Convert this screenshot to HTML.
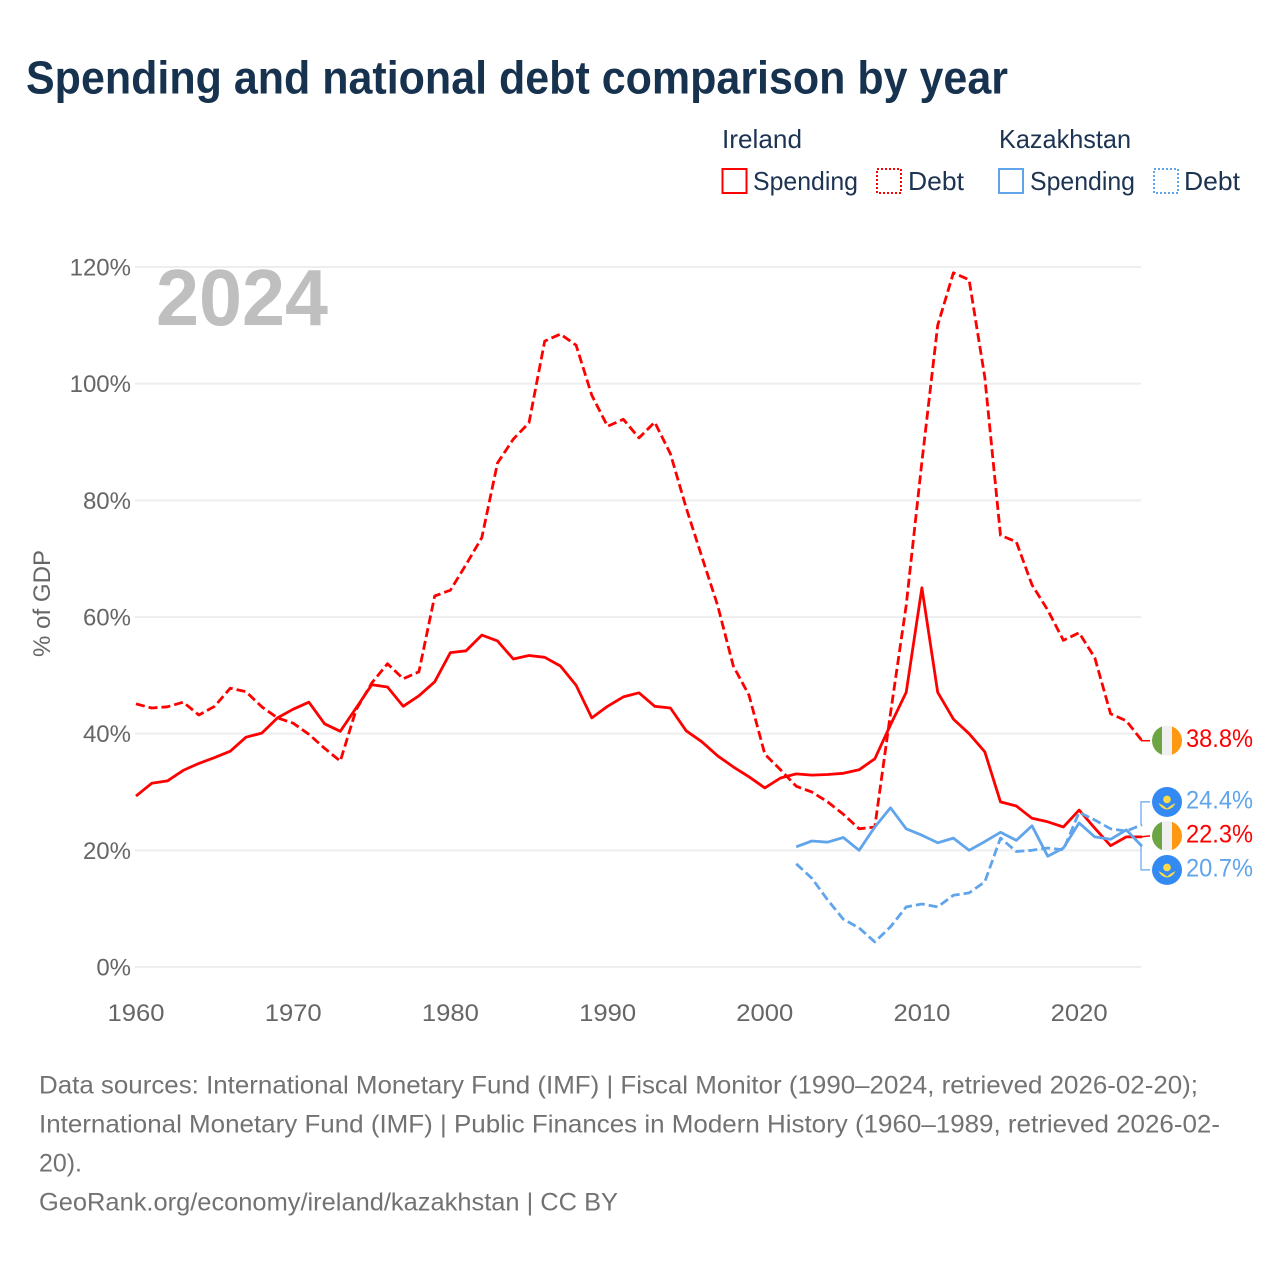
<!DOCTYPE html>
<html lang="en">
<head>
<meta charset="utf-8">
<title>Spending and national debt comparison by year</title>
<style>
html,body{margin:0;padding:0;background:#fff}
svg{display:block}
text{font-family:"Liberation Sans",sans-serif}
.legend{font-size:26px;fill:#1c3352}
.foot{font-size:25px;fill:#727272}
</style>
</head>
<body>
<svg id="chart" xmlns="http://www.w3.org/2000/svg" width="1280" height="1280" viewBox="0 0 1280 1280">
  <rect width="1280" height="1280" fill="#fff"/>
  <text x="26" y="93.5" font-size="46" font-weight="700" fill="#17324f" textLength="982" lengthAdjust="spacingAndGlyphs">Spending and national debt comparison by year</text>

  <g>
    <text class="legend" x="722" y="148" textLength="80" lengthAdjust="spacingAndGlyphs">Ireland</text>
    <text class="legend" x="999" y="148" textLength="132" lengthAdjust="spacingAndGlyphs">Kazakhstan</text>
    <rect x="722.5" y="169" width="24" height="24" fill="none" stroke="#ff0000" stroke-width="2"/>
    <text class="legend" x="753" y="190" textLength="105" lengthAdjust="spacingAndGlyphs">Spending</text>
    <rect x="877" y="169" width="24" height="24" fill="none" stroke="#ff0000" stroke-width="2" stroke-dasharray="2 2"/>
    <text class="legend" x="908" y="190" textLength="56" lengthAdjust="spacingAndGlyphs">Debt</text>
    <rect x="999" y="169" width="24" height="24" fill="none" stroke="#60a5ec" stroke-width="2"/>
    <text class="legend" x="1030" y="190" textLength="105" lengthAdjust="spacingAndGlyphs">Spending</text>
    <rect x="1154" y="169" width="24" height="24" fill="none" stroke="#60a5ec" stroke-width="2" stroke-dasharray="2 2"/>
    <text class="legend" x="1184" y="190" textLength="56" lengthAdjust="spacingAndGlyphs">Debt</text>
  </g>

  <g id="grid"></g>
  <g id="y-axis"></g>
  <g id="x-axis"></g>
  <text transform="translate(50 657) rotate(-90)" font-size="24" fill="#666" textLength="107" lengthAdjust="spacingAndGlyphs">% of GDP</text>
  <text x="156" y="325" font-size="80" font-weight="700" fill="#bfbfbf" textLength="172" lengthAdjust="spacingAndGlyphs">2024</text>

  <g id="series"></g>
  <g id="end-labels"></g>

  <g>
    <text class="foot" x="39" y="1093.5" textLength="1159" lengthAdjust="spacingAndGlyphs">Data sources: International Monetary Fund (IMF) | Fiscal Monitor (1990–2024, retrieved 2026-02-20);</text>
    <text class="foot" x="39" y="1132.5" textLength="1181" lengthAdjust="spacingAndGlyphs">International Monetary Fund (IMF) | Public Finances in Modern History (1960–1989, retrieved 2026-02-</text>
    <text class="foot" x="39" y="1171.5" textLength="43" lengthAdjust="spacingAndGlyphs">20).</text>
    <text class="foot" x="39" y="1210.5" textLength="579" lengthAdjust="spacingAndGlyphs">GeoRank.org/economy/ireland/kazakhstan | CC BY</text>
  </g>
</svg>
<script>
const irelandYears = [1960,1961,1962,1963,1964,1965,1966,1967,1968,1969,1970,1971,1972,1973,1974,1975,1976,1977,1978,1979,1980,1981,1982,1983,1984,1985,1986,1987,1988,1989,1990,1991,1992,1993,1994,1995,1996,1997,1998,1999,2000,2001,2002,2003,2004,2005,2006,2007,2008,2009,2010,2011,2012,2013,2014,2015,2016,2017,2018,2019,2020,2021,2022,2023,2024];
const kazakhstanYears = [2002,2003,2004,2005,2006,2007,2008,2009,2010,2011,2012,2013,2014,2015,2016,2017,2018,2019,2020,2021,2022,2023,2024];
const irelandSpending = [29.3,31.5,31.9,33.7,34.9,35.9,37.0,39.4,40.1,42.7,44.2,45.4,41.7,40.4,44.4,48.4,48.0,44.7,46.5,48.9,53.9,54.2,56.9,55.9,52.8,53.4,53.1,51.6,48.3,42.7,44.7,46.3,47.0,44.7,44.4,40.5,38.6,36.2,34.3,32.6,30.7,32.4,33.1,32.9,33.0,33.2,33.8,35.7,41.5,47.1,65.0,47.1,42.5,40.0,36.9,28.3,27.6,25.5,24.9,24.0,26.9,23.8,20.8,22.3,22.3];
const irelandDebt = [45.1,44.4,44.6,45.4,43.2,44.7,47.8,47.2,44.6,42.7,41.8,39.9,37.5,35.3,44.1,48.7,52.0,49.4,50.6,63.6,64.6,69.0,73.6,86.4,90.5,93.3,107.3,108.5,106.6,98.0,92.7,93.9,90.7,93.4,88.0,78.7,70.3,62.0,51.6,46.6,36.5,33.8,31.0,30.0,28.3,26.2,23.7,24.0,43.5,62.0,86.6,110.0,119.0,117.8,101.1,74.0,72.9,65.5,61.2,56.0,57.3,53.0,43.4,42.2,38.8];
const kazakhstanSpending = [20.6,21.6,21.4,22.2,20.0,24.0,27.3,23.7,22.6,21.3,22.1,20.0,21.5,23.1,21.7,24.2,19.0,20.4,24.7,22.3,21.9,23.5,20.7];
const kazakhstanDebt = [17.7,15.2,11.5,8.2,6.7,4.3,6.9,10.3,10.8,10.3,12.3,12.7,14.6,22.1,19.8,20.0,20.4,20.1,26.5,25.2,23.7,23.3,24.4];
const yTickValues = [0,20,40,60,80,100,120];
const yTickLabels = ["0%","20%","40%","60%","80%","100%","120%"];
const xTickValues = [1960,1970,1980,1990,2000,2010,2020];
const xTickLabels = ["1960","1970","1980","1990","2000","2010","2020"];
const endLabelTexts = {irelandDebt:"38.8%",kazakhstanDebt:"24.4%",irelandSpending:"22.3%",kazakhstanSpending:"20.7%"};

const SVGNS = "http://www.w3.org/2000/svg";
const RED = "#ff0000", BLUE = "#60a5ec";
function xScale(year){ return 136 + (year - 1960) * (1142 - 136) / 64; }
function yScale(pct){ return 967 - pct * (967 - 267) / 120; }
function make(tag, parent, attrs){
  const n = document.createElementNS(SVGNS, tag);
  for (const k in attrs) n.setAttribute(k, attrs[k]);
  parent.appendChild(n);
  return n;
}
const gridG = document.getElementById("grid");
const yG = document.getElementById("y-axis");
const xG = document.getElementById("x-axis");
const seriesG = document.getElementById("series");
const endG = document.getElementById("end-labels");

yTickValues.forEach(function(v, i){
  const line = make("line", gridG, {x1:135, x2:1141, y1:yScale(v), y2:yScale(v), stroke:"#eeeeee", "stroke-width":2});
  
  
  const t = make("text", yG, {x:131, y:yScale(v)+8.5, "text-anchor":"end", "font-size":24, fill:"#666"});
  t.textContent = yTickLabels[i];
  
  
});
xTickValues.forEach(function(v, i){
  const t = make("text", xG, {x:xScale(v), y:1021, "text-anchor":"middle", "font-size":24, fill:"#666", textLength:57, lengthAdjust:"spacingAndGlyphs"});
  t.textContent = xTickLabels[i];
  
  
});

function pathFrom(years, values){
  return values.map(function(v, i){
    return (i ? "L" : "M") + xScale(years[i]).toFixed(1) + " " + yScale(v).toFixed(1);
  }).join("");
}
function drawSeries(years, values, color, dashed){
  const p = make("path", seriesG, {d:pathFrom(years, values), fill:"none", stroke:color, "stroke-width":2.8, "stroke-linejoin":"round"});
  if (dashed) p.setAttribute("stroke-dasharray", "9 4");
  return p;
}
const s1 = drawSeries(irelandYears, irelandDebt, RED, true);


const s2 = drawSeries(irelandYears, irelandSpending, RED, false);


const s3 = drawSeries(kazakhstanYears, kazakhstanDebt, BLUE, true);


const s4 = drawSeries(kazakhstanYears, kazakhstanSpending, BLUE, false);



/* end labels: anchored to each series' last value, then spread apart to avoid overlap */
const endItems = [
  {key:"irelandDebt", v:irelandDebt[irelandDebt.length-1], color:RED, country:"ie"},
  {key:"kazakhstanDebt", v:kazakhstanDebt[kazakhstanDebt.length-1], color:BLUE, country:"kz"},
  {key:"irelandSpending", v:irelandSpending[irelandSpending.length-1], color:RED, country:"ie"},
  {key:"kazakhstanSpending", v:kazakhstanSpending[kazakhstanSpending.length-1], color:BLUE, country:"kz"}
].sort(function(a, b){ return b.v - a.v; });
const GAP = 34;
let clusters = endItems.map(function(it){ it.y0 = yScale(it.v); return {items:[it], c:it.y0}; });
let merged = true;
while (merged) {
  merged = false;
  for (let i = 0; i < clusters.length - 1; i++) {
    const a = clusters[i], b = clusters[i+1];
    const aEnd = a.c + (a.items.length-1)*GAP/2, bStart = b.c - (b.items.length-1)*GAP/2;
    if (bStart - aEnd < GAP) {
      const items = a.items.concat(b.items);
      const c = items.reduce(function(s, it){ return s + it.y0; }, 0) / items.length;
      clusters.splice(i, 2, {items:items, c:c});
      merged = true;
      break;
    }
  }
}
clusters.forEach(function(cl){
  cl.items.forEach(function(it, i){ it.y = cl.c + (i - (cl.items.length-1)/2) * GAP; });
});
function drawFlag(parent, cx, cy, country, idx){
  const clip = make("clipPath", parent, {id:"flag-clip-"+idx});
  make("circle", clip, {cx:cx, cy:cy, r:15});
  const g = make("g", parent, {"clip-path":"url(#flag-clip-"+idx+")"});
  if (country === "ie") {
    make("rect", g, {x:cx-15, y:cy-15, width:10, height:30, fill:"#6da544"});
    make("rect", g, {x:cx-5, y:cy-15, width:10, height:30, fill:"#f0f0f0"});
    make("rect", g, {x:cx+5, y:cy-15, width:10, height:30, fill:"#ff9811"});
  } else {
    make("rect", g, {x:cx-15, y:cy-15, width:30, height:30, fill:"#338af3"});
    make("circle", g, {cx:cx, cy:cy-2.5, r:3.8, fill:"#ffda44"});
    make("path", g, {d:"M"+(cx-8.5)+" "+(cy+1)+"Q"+(cx-4)+" "+(cy+3)+" "+cx+" "+(cy+6.5)+"Q"+(cx+4)+" "+(cy+3)+" "+(cx+8.5)+" "+(cy+1)+"Q"+(cx+6)+" "+(cy+7)+" "+cx+" "+(cy+7.5)+"Q"+(cx-6)+" "+(cy+7)+" "+(cx-8.5)+" "+(cy+1)+"Z", fill:"#ffda44"});
  }
  return g;
}
endItems.forEach(function(it, idx){
  const displaced = Math.abs(it.y - it.y0) > 2;
  const d = displaced
    ? "M1141 " + it.y0.toFixed(1) + "L1141 " + it.y.toFixed(1) + "L1150 " + it.y.toFixed(1)
    : "M1141 " + it.y0.toFixed(1) + "L1150 " + it.y.toFixed(1);
  const conn = make("path", endG, {d:d, fill:"none", stroke:it.color, "stroke-width":displaced ? 1.2 : 1.5});
  
  
  const flag = drawFlag(endG, 1167, it.y, it.country, idx);
  
  
  const t = make("text", endG, {x:1186, y:it.y+6.5, "font-size":25, fill:it.color, textLength:67, lengthAdjust:"spacingAndGlyphs"});
  t.textContent = endLabelTexts[it.key];
  
  
});
</script>
</body>
</html>
